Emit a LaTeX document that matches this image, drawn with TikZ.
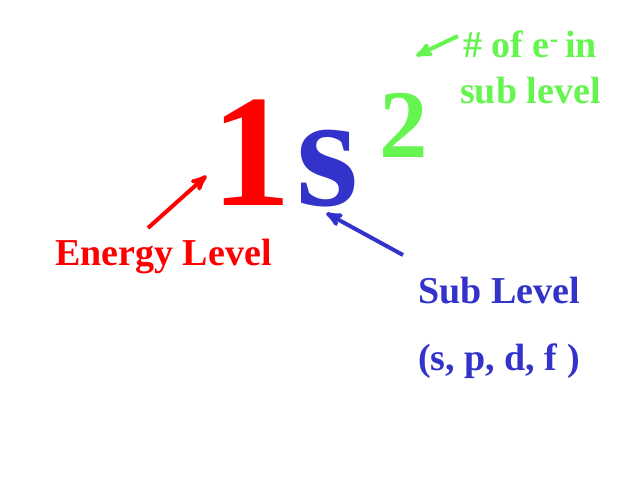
\documentclass[tikz,border=0pt]{standalone}
\usepackage{fontspec}
\setmainfont{Liberation Serif}
\usetikzlibrary{arrows,positioning}

\definecolor{levelred}{RGB}{255,0,0}
\definecolor{subblue}{RGB}{51,51,204}
\definecolor{egreen}{RGB}{102,245,80}

\begin{document}
\begin{tikzpicture}
  [
  x=1pt, y=-1pt,
  >=stealth',
  bigchar/.style={inner sep=0pt, anchor=base west, font=\bfseries\fontsize{160}{160}\selectfont},
  supchar/.style={inner sep=0pt, anchor=base west, font=\bfseries\fontsize{97}{97}\selectfont},
  note/.style={inner sep=0pt, anchor=base west, font=\bfseries\fontsize{38}{46}\selectfont},
  pointer/.style={->, line width=4pt, shorten >=-2pt},
  ]
  \useasboundingbox[fill=white] (0,0) rectangle (638,479);

  % the symbol 1s^2
  \node[bigchar, text=levelred] (one) at (211,205) {1};
  \node[bigchar, text=subblue] (sub) at (296,205) {s};
  \node[supchar, text=egreen] (two) at (379,157) {2};

  % labels
  \node[note, text=egreen] (count) at (463,57) {\# of e\textsuperscript{-}\,in};
  \node[note, text=egreen] (countb) at (460,103) {sub level};
  \node[note, text=levelred] (energy) at (55,265) {Energy Level};
  \node[note, text=subblue] (sublevel) at (418,303) {Sub Level};
  \node[note, text=subblue] (kinds) at (418,370) {(s, p, d, f )};

  \coordinate (gtail) at (458,36);
  \coordinate (gtip) at (418,55);
  \coordinate (rtail) at (148,228);
  \coordinate (rtip) at (205,177);
  \coordinate (btail) at (403,255);
  \coordinate (btip) at (328,214);

  \draw[pointer, egreen] (gtail) -- (gtip);
  \draw[pointer, levelred] (rtail) -- (rtip);
  \draw[pointer, subblue] (btail) -- (btip);

\end{tikzpicture}
\end{document}
